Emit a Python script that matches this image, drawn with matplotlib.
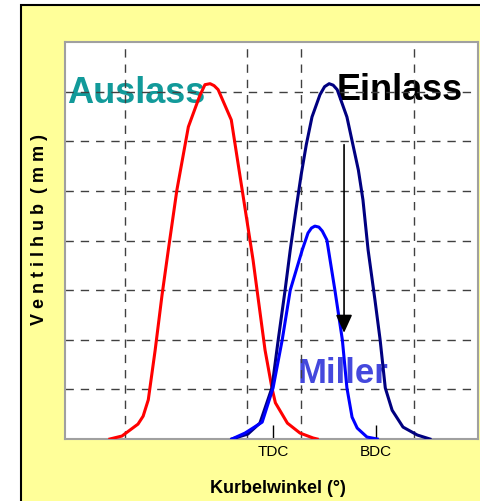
import matplotlib
matplotlib.use("Agg")
import matplotlib.pyplot as plt
from matplotlib.patches import Rectangle

# crank angle (deg) / valve lift (grid units)
ausl_x = [75, 96, 124, 133, 142, 154, 166, 177, 192, 212, 232, 241, 250, 257,
          264, 287, 306, 325, 332, 346, 358, 364, 385, 407, 430, 437]
ausl_y = [0, 0.06, 0.30, 0.46, 0.79, 1.79, 2.90, 3.81, 5.02, 6.29, 6.92, 7.14, 7.16, 7.12,
          7.04, 6.43, 5.02, 3.61, 3.0, 1.79, 1.03, 0.73, 0.32, 0.12, 0.02, 0]

einl_x = [288, 316, 337, 358, 369, 381, 390, 400, 409, 418, 428, 442, 450, 458,
          465, 472, 489, 509, 517, 526, 538, 547, 556, 568, 587, 612, 634]
einl_y = [0, 0.10, 0.32, 1.03, 2.0, 3.0, 3.81, 4.62, 5.32, 5.93, 6.49, 6.94, 7.10, 7.16,
          7.13, 7.04, 6.49, 5.42, 4.82, 3.81, 2.80, 2.0, 1.03, 0.58, 0.24, 0.08, 0]

miller_x = [288, 311, 341, 360, 376, 390, 411, 421, 427, 433, 440, 446, 454, 468, 481,
            489, 498, 507, 524, 542]
miller_y = [0, 0.12, 0.34, 1.03, 2.0, 3.0, 3.81, 4.15, 4.25, 4.29, 4.27, 4.19, 4.01, 3.0, 2.0,
            1.03, 0.44, 0.22, 0.04, 0]

grid_x = [101, 315, 409, 606]
grid_y = [1, 2, 3, 4, 5, 6, 7]
tick_pos = [360, 540]
tick_lab = ["TDC", "BDC"]

plt.rcParams["font.family"] = ["Liberation Sans", "DejaVu Sans"]

fig = plt.figure(figsize=(4.8, 5.01), dpi=100)
fig.patches.append(Rectangle((21 / 480, -0.05), 1.0, 1.05 - 5 / 501, transform=fig.transFigure,
                             facecolor="#FFFF99", edgecolor="black", lw=1.5, zorder=-1))

ax = fig.add_axes([65 / 480, 1 - 439 / 501, 413 / 480, 397 / 501])
ax.set_facecolor("white")
ax.set_xlim(-3.5, 718)
ax.set_ylim(0, 8)

for gx in grid_x:
    ax.axvline(gx, color="#404040", lw=1, dashes=(6, 5), zorder=2.5)
for gy in grid_y:
    ax.axhline(gy, color="#404040", lw=1, dashes=(6, 5), zorder=2.5)

ax.plot(ausl_x, ausl_y, color="#FF0000", lw=2.2, zorder=3)
ax.plot(einl_x, einl_y, color="#000080", lw=2.2, zorder=3)
ax.plot(miller_x, miller_y, color="#0000FF", lw=2.2, zorder=3.1)

ax.annotate("", xy=(484, 2.14), xytext=(484, 5.93),
            arrowprops=dict(arrowstyle="-|>,head_length=1.1,head_width=0.5",
                            color="black", lw=1.2, shrinkA=0, shrinkB=0), zorder=4)

ax.text(0, 6.77, "Auslass", color="#129A9A", fontsize=26, fontweight="bold",
        ha="left", va="baseline", zorder=1)
ax.text(471, 6.83, "Einlass", color="black", fontsize=26, fontweight="bold",
        ha="left", va="baseline", zorder=1)
ax.text(403, 1.13, "Miller", color="#4448DD", fontsize=25, fontweight="bold",
        ha="left", va="baseline", zorder=1)

ax.set_xticks(tick_pos)
ax.set_xticklabels(tick_lab, fontsize=11)
ax.set_yticks([])
ax.tick_params(axis="x", direction="in", length=10, width=1, color="black", pad=4)
for s in ax.spines.values():
    s.set_color("#A0A0A0")
    s.set_linewidth(1.5)

fig.text(40 / 480, 1 - 325 / 501, "V e n t i l h u b  ( m m )", rotation=90,
         fontsize=13, fontweight="bold", ha="center", va="bottom")
fig.text(277.5 / 480, 1 - 493 / 501, "Kurbelwinkel (°)",
         fontsize=13, fontweight="bold", ha="center", va="baseline")

fig.savefig("out.png", dpi=100)
